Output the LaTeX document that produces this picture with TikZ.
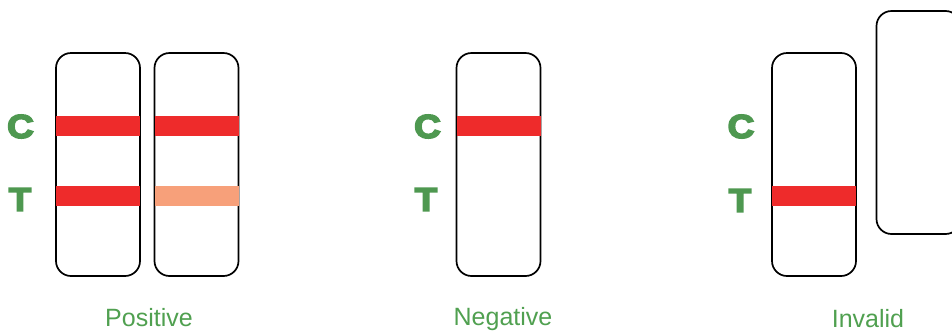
\documentclass[tikz,border=0pt]{standalone}
\usepackage{fontspec}
\setmainfont{Liberation Sans}
\newfontfamily\heavyfont[FakeBold=5,FakeStretch=1.12]{Liberation Sans Bold}
\definecolor{labgreen}{RGB}{80,160,80}
\definecolor{letgreen}{RGB}{78,152,80}
\definecolor{bandred}{RGB}{238,43,43}
\definecolor{bandpale}{RGB}{247,160,122}
\tikzset{
  stripbox/.style={draw=black, line width=1.7pt, rounded corners=15pt, fill=white, minimum width=84pt, minimum height=223pt, inner sep=0pt},
  band/.style={minimum width=84pt, minimum height=20pt, inner sep=0pt, draw=none},
  letter/.style={text=letgreen, font=\heavyfont\fontsize{33}{33}\selectfont, inner sep=0pt},
  label/.style={text=labgreen, font=\fontsize{25}{25}\selectfont, inner sep=0pt, anchor=base}
}
\begin{document}
\begin{tikzpicture}[x=1pt,y=-1pt]
\useasboundingbox (0,0) rectangle (952,333);
\begin{scope}
\clip (0,0) rectangle (952,333);
% Positive
\node[stripbox] (s1) at (98,164.5) {};
\node[stripbox] (s2) at (196.5,164.5) {};
\node[band, fill=bandred] (s1c) at (98,126) {};
\node[band, fill=bandred] (s1t) at (98,196) {};
\node[band, fill=bandred] (s2c) at (196.5,126) {};
\node[band, fill=bandpale] (s2t) at (196.5,196) {};
\node[letter] (pc) at (20.5,126.5) {C};
\node[letter] (pt) at (20,199.5) {T};
\node[label] (lp) at (149,326.5) {Positive};
% Negative
\node[stripbox] (s3) at (498.5,164.5) {};
\node[band, fill=bandred] (s3c) at (498.5,126) {};
\node[letter] (nc) at (427.5,126.5) {C};
\node[letter] (nt) at (426,199.5) {T};
\node[label] (ln) at (503,325) {Negative};
% Invalid
\node[stripbox] (s4) at (814,164.5) {};
\node[band, fill=bandred] (s4t) at (814,196) {};
\node[stripbox] (s5) at (918.5,122.5) {};
\node[letter] (ic) at (741,126.5) {C};
\node[letter] (it) at (740,200.5) {T};
\node[label] (li) at (868,327) {Invalid};
\end{scope}
\end{tikzpicture}
\end{document}
